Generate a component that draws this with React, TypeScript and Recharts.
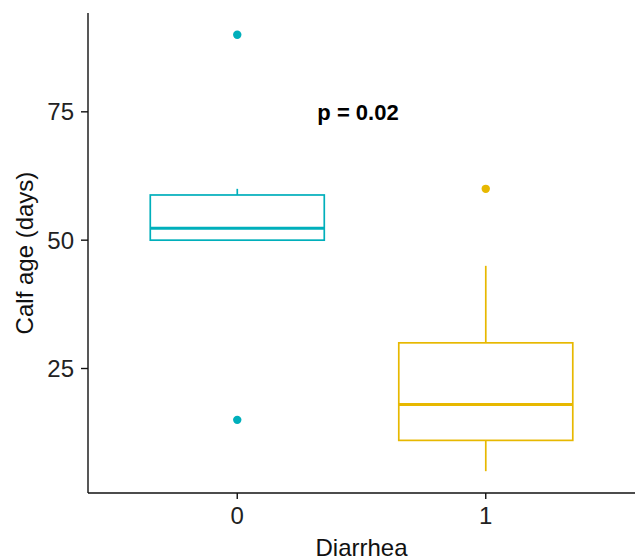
import { ComposedChart, Bar, Scatter, XAxis, YAxis } from "recharts";

const categories = ["0", "1"];
const whiskerLow = [50, 5];
const q1 = [50, 11];
const median = [52.3, 18];
const q3 = [58.8, 30];
const whiskerHigh = [60, 45];
const groupColors = ["#00AFBB", "#E7B800"];

const outlierGroup = ["0", "0", "1"];
const outlierValue = [90, 15, 60];

const yTicks = [25, 50, 75];
const pLabel = "p = 0.02";

const font = "'Liberation Sans', Arial, sans-serif";

const boxData = categories.map((g, i) => ({
  g,
  box: [q1[i], q3[i]],
  lo: whiskerLow[i],
  q1: q1[i],
  med: median[i],
  q3: q3[i],
  hi: whiskerHigh[i],
  color: groupColors[i],
}));

const outliers = outlierGroup.map((g, i) => ({
  g,
  v: outlierValue[i],
  color: groupColors[categories.indexOf(g)],
}));

// box + whiskers, scaled from the bar rect the library gives us
const BoxShape = (props: any) => {
  const { x, y, width, height, payload } = props;
  const top = Math.min(y, y + height);
  const h = Math.abs(height);
  const k = h / (payload.q3 - payload.q1);
  const toY = (v: number) => top + (payload.q3 - v) * k;
  const cx = x + width / 2;
  const c = payload.color;
  return (
    <g>
      <line x1={cx} x2={cx} y1={toY(payload.hi)} y2={top} stroke={c} strokeWidth={1.7} />
      <line x1={cx} x2={cx} y1={top + h} y2={toY(payload.lo)} stroke={c} strokeWidth={1.7} />
      <rect x={x} y={top} width={width} height={h} fill="#fff" stroke={c} strokeWidth={1.7} />
      <line x1={x} x2={x + width} y1={toY(payload.med)} y2={toY(payload.med)} stroke={c} strokeWidth={3} />
    </g>
  );
};

const Dot = (props: any) => {
  const { cx, cy, payload } = props;
  return <circle cx={cx} cy={cy} r={4.2} fill={payload.color} />;
};

export default function App() {
  return (
    <div style={{ position: "absolute", left: 0, top: 0, width: 635, height: 560, background: "#fff" }}>
      <ComposedChart
        width={635}
        height={560}
        data={boxData}
        margin={{ top: 13, right: 0, bottom: 0, left: 0 }}
        barCategoryGap="15%"
      >
        <XAxis
          dataKey="g"
          type="category"
          allowDuplicatedCategory={false}
          padding={{ left: 25, right: 25 }}
          height={67}
          axisLine={{ stroke: "#111", strokeWidth: 1.4 }}
          tickLine={{ stroke: "#111", strokeWidth: 1.4 }}
          tickSize={6}
          tickMargin={8}
          tick={{ fill: "#222", fontSize: 24, fontFamily: font }}
          label={{ value: "Diarrhea", position: "insideBottom", offset: 4, fill: "#111", fontSize: 24, fontFamily: font }}
        />
        <YAxis
          type="number"
          domain={[0.75, 94.25]}
          ticks={yTicks}
          allowDataOverflow
          width={88}
          axisLine={{ stroke: "#111", strokeWidth: 1.4 }}
          tickLine={{ stroke: "#111", strokeWidth: 1.4 }}
          tickSize={7}
          tickMargin={7}
          tick={{ fill: "#222", fontSize: 24, fontFamily: font }}
          label={{
            value: "Calf age (days)",
            angle: -90,
            position: "insideLeft",
            offset: 24,
            fill: "#111",
            fontSize: 24,
            fontFamily: font,
            style: { textAnchor: "middle" },
          }}
        />
        <Bar dataKey="box" shape={<BoxShape />} isAnimationActive={false} />
        <Scatter data={outliers} dataKey="v" shape={<Dot />} isAnimationActive={false} />
      </ComposedChart>
      <div
        style={{
          position: "absolute",
          left: 358,
          top: 100,
          transform: "translateX(-50%)",
          fontFamily: font,
          fontWeight: 700,
          fontSize: 22,
          lineHeight: "normal",
          color: "#000",
          whiteSpace: "nowrap",
        }}
      >
        {pLabel}
      </div>
    </div>
  );
}
